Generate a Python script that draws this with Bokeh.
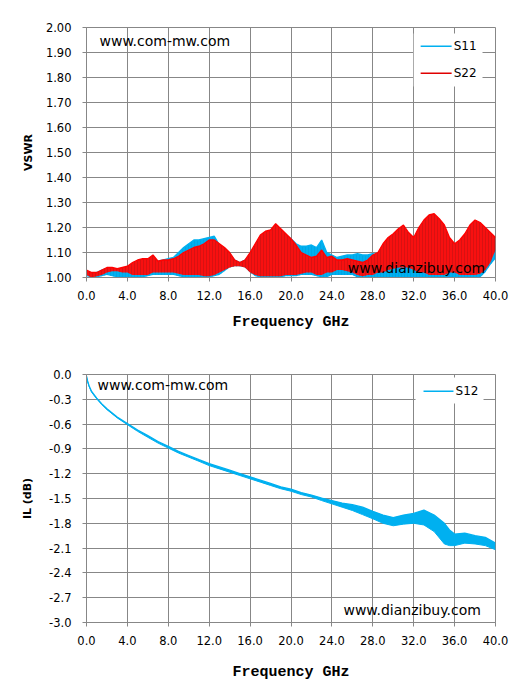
from bokeh.plotting import figure
from bokeh.models import (Range1d, FixedTicker, PrintfTickFormatter, Label, BoxAnnotation)
from bokeh.layouts import column
from bokeh.embed import file_html
from bokeh.resources import INLINE

# ---------------- data ----------------
freq_vswr = [0.0, 0.5, 1.0, 1.5, 2.0, 2.5, 3.0, 3.5, 4.0, 4.5, 5.0, 5.5, 6.0, 6.5, 7.0, 7.5,
             8.0, 8.5, 9.0, 9.5, 10.0, 10.5, 11.0, 11.5, 12.0, 12.5, 13.0, 13.5, 14.0, 14.5,
             15.0, 15.5, 16.0, 16.5, 17.0, 17.5, 18.0, 18.5, 19.0, 19.5, 20.0, 20.5, 21.0,
             21.5, 22.0, 22.5, 23.0, 23.5, 24.0, 24.5, 25.0, 25.5, 26.0, 26.5, 27.0, 27.5,
             28.0, 28.5, 29.0, 29.5, 30.0, 30.5, 31.0, 31.5, 32.0, 32.5, 33.0, 33.5, 34.0,
             34.5, 35.0, 35.5, 36.0, 36.5, 37.0, 37.5, 38.0, 38.5, 39.0, 39.5, 40.0]

s22_hi = [1.03, 1.02, 1.02, 1.03, 1.04, 1.04, 1.035, 1.04, 1.045, 1.06, 1.07, 1.075, 1.075,
          1.09, 1.065, 1.07, 1.07, 1.075, 1.085, 1.10, 1.11, 1.12, 1.125, 1.135, 1.15, 1.15,
          1.135, 1.12, 1.10, 1.07, 1.06, 1.07, 1.10, 1.135, 1.17, 1.185, 1.19, 1.215, 1.195,
          1.175, 1.155, 1.13, 1.10, 1.09, 1.08, 1.085, 1.11, 1.08, 1.085, 1.07, 1.07, 1.075,
          1.07, 1.065, 1.06, 1.07, 1.09, 1.10, 1.135, 1.16, 1.175, 1.195, 1.21, 1.18, 1.16,
          1.20, 1.23, 1.25, 1.255, 1.235, 1.21, 1.16, 1.135, 1.15, 1.175, 1.21, 1.23, 1.22,
          1.20, 1.18, 1.16]
s22_lo = [1.01, 1.00, 1.005, 1.01, 1.02, 1.025, 1.025, 1.02, 1.02, 1.01, 1.01, 1.01, 1.01,
          1.02, 1.02, 1.02, 1.02, 1.02, 1.015, 1.01, 1.01, 1.01, 1.01, 1.005, 1.005, 1.01,
          1.02, 1.03, 1.04, 1.045, 1.045, 1.04, 1.02, 1.01, 1.005, 1.005, 1.005, 1.005, 1.005,
          1.01, 1.01, 1.01, 1.015, 1.02, 1.02, 1.01, 1.01, 1.02, 1.02, 1.03, 1.03, 1.025,
          1.02, 1.01, 1.005, 1.01, 1.01, 1.02, 1.02, 1.03, 1.035, 1.04, 1.04, 1.04, 1.03,
          1.02, 1.02, 1.01, 1.01, 1.01, 1.01, 1.02, 1.02, 1.01, 1.01, 1.01, 1.01, 1.015,
          1.03, 1.06, 1.11]
s11_hi = [1.02, 1.015, 1.02, 1.03, 1.035, 1.03, 1.025, 1.03, 1.04, 1.05, 1.06, 1.065, 1.07,
          1.07, 1.065, 1.07, 1.075, 1.08, 1.10, 1.12, 1.135, 1.15, 1.15, 1.155, 1.16, 1.165,
          1.13, 1.11, 1.09, 1.07, 1.06, 1.07, 1.09, 1.12, 1.15, 1.17, 1.175, 1.18, 1.18,
          1.17, 1.155, 1.135, 1.125, 1.125, 1.13, 1.12, 1.15, 1.10, 1.09, 1.08, 1.085, 1.09,
          1.09, 1.095, 1.09, 1.09, 1.095, 1.09, 1.09, 1.09, 1.095, 1.10, 1.12, 1.135, 1.155,
          1.15, 1.135, 1.11, 1.10, 1.095, 1.09, 1.09, 1.09, 1.085, 1.085, 1.09, 1.09, 1.09,
          1.095, 1.10, 1.11]
s11_lo = [1.005, 1.00, 1.00, 1.005, 1.01, 1.005, 1.00, 1.00, 1.00, 1.00, 1.00, 1.00, 1.005,
          1.01, 1.01, 1.01, 1.01, 1.01, 1.005, 1.00, 1.00, 1.00, 1.00, 1.00, 1.00, 1.005,
          1.01, 1.025, 1.04, 1.045, 1.045, 1.04, 1.02, 1.005, 1.00, 1.00, 1.00, 1.00, 1.00,
          1.005, 1.005, 1.005, 1.01, 1.01, 1.01, 1.005, 1.00, 1.00, 1.01, 1.01, 1.01, 1.01,
          1.01, 1.00, 1.00, 1.00, 1.00, 1.00, 1.00, 1.00, 1.00, 1.00, 1.00, 1.00, 1.00,
          1.00, 1.00, 1.00, 1.00, 1.00, 1.00, 1.00, 1.00, 1.00, 1.00, 1.00, 1.00, 1.00,
          1.02, 1.05, 1.075]

freq_il = [0.0, 0.1, 0.25, 0.5, 1.0, 1.5, 2.0, 3.0, 4.0, 5.0, 6.0, 7.0, 8.0, 9.0, 10.0, 11.0,
           12.0, 13.0, 14.0, 15.0, 16.0, 17.0, 18.0, 19.0, 20.0, 21.0, 22.0, 23.0, 24.0, 25.0,
           26.0, 27.0, 28.0, 29.0, 30.0, 31.0, 32.0, 33.0, 34.0, 35.0, 35.5, 36.0, 37.0, 38.0,
           39.0, 40.0]
s12_hi = [-0.02, -0.075, -0.135, -0.205, -0.285, -0.355, -0.415, -0.515, -0.593, -0.672,
          -0.74, -0.81, -0.87, -0.93, -0.98, -1.03, -1.078, -1.118, -1.158, -1.198, -1.238,
          -1.278, -1.318, -1.358, -1.388, -1.428, -1.458, -1.495, -1.525, -1.555, -1.575,
          -1.605, -1.655, -1.70, -1.73, -1.70, -1.68, -1.64, -1.70, -1.80, -1.88, -1.93,
          -1.92, -1.95, -1.97, -2.04]
s12_lo = [-0.03, -0.085, -0.145, -0.215, -0.295, -0.365, -0.425, -0.525, -0.607, -0.688,
          -0.76, -0.83, -0.89, -0.95, -1.00, -1.05, -1.102, -1.142, -1.182, -1.222, -1.262,
          -1.302, -1.342, -1.382, -1.412, -1.452, -1.482, -1.525, -1.565, -1.605, -1.645,
          -1.695, -1.745, -1.80, -1.83, -1.81, -1.80, -1.82, -1.90, -2.05, -2.07, -2.07,
          -2.04, -2.05, -2.07, -2.12]

vswr_ticks = [1.0, 1.1, 1.2, 1.3, 1.4, 1.5, 1.6, 1.7, 1.8, 1.9, 2.0]
il_ticks = [-3.0, -2.7, -2.4, -2.1, -1.8, -1.5, -1.2, -0.9, -0.6, -0.3, 0.0]
freq_ticks = [0, 4, 8, 12, 16, 20, 24, 28, 32, 36, 40]
series_top = ["S11", "S22"]
series_bottom = ["S12"]

BLUE = "#00B0F0"
RED = "#FF0000"
GRID = "#878787"
TICK_FONT = "DejaVu Sans"


def style(p, yticks, yfmt, ylabel):
    p.xaxis.ticker = FixedTicker(ticks=freq_ticks)
    p.yaxis.ticker = FixedTicker(ticks=yticks)
    p.xaxis.formatter = PrintfTickFormatter(format="%.1f")
    p.yaxis.formatter = PrintfTickFormatter(format=yfmt)
    for ax in (p.xaxis, p.yaxis):
        ax.axis_line_color = GRID
        ax.major_tick_line_color = GRID
        ax.minor_tick_line_color = None
        ax.major_tick_out = 4
        ax.major_tick_in = 0
        ax.major_label_text_font = TICK_FONT
        ax.major_label_text_font_size = "11.5px"
        ax.major_label_text_color = "#000000"
    p.xaxis.axis_label = "Frequency GHz"
    p.xaxis.axis_label_text_font = "Liberation Mono"
    p.xaxis.axis_label_text_font_style = "bold"
    p.xaxis.axis_label_text_font_size = "15px"
    p.xaxis.axis_label_text_color = "#000000"
    p.yaxis.axis_label = ylabel
    p.yaxis.axis_label_text_font = "DejaVu Sans"
    p.yaxis.axis_label_text_font_style = "bold"
    p.yaxis.axis_label_text_font_size = "11px"
    p.yaxis.axis_label_text_color = "#000000"
    p.xaxis.major_label_standoff = 9
    p.yaxis.major_label_standoff = 11
    p.grid.grid_line_color = GRID
    p.grid.grid_line_width = 1
    p.outline_line_color = GRID
    p.background_fill_color = "white"
    p.border_fill_color = "white"


def box(p, left, right, top, bottom, color):
    p.add_layout(BoxAnnotation(left=left, right=right, top=top, bottom=bottom,
                               fill_color=color, fill_alpha=1.0, line_color=None,
                               line_alpha=0))


def key_entry(p, x0, x1, y, half, color, text):
    # swatch drawn as a very thin filled bar (1.5 px tall)
    box(p, x0, x1, y + half, y - half, color)
    p.add_layout(Label(x=x1 + 0.2, y=y, text=text, text_font="DejaVu Sans",
                       text_font_size="12px", text_baseline="middle", text_color="#000000"))


# ---------------- top: VSWR ----------------
p1 = figure(width=513, height=343, output_backend="svg", toolbar_location=None,
            x_range=Range1d(0, 40), y_range=Range1d(1.0, 2.0),
            min_border_left=86, min_border_right=17, min_border_top=27, min_border_bottom=66)
style(p1, vswr_ticks, "%.2f", "VSWR")
p1.xaxis.axis_label_standoff = 11
p1.yaxis.axis_label_standoff = 8

p1.varea(x=freq_vswr, y1=s11_lo, y2=s11_hi, fill_color=BLUE, fill_alpha=1.0,
         hatch_pattern="vertical_line", hatch_color="#0090D0", hatch_alpha=0.35,
         hatch_scale=3, hatch_weight=1)
p1.line(freq_vswr, s11_hi, line_color=BLUE, line_width=1.3)
p1.varea(x=freq_vswr, y1=s22_lo, y2=s22_hi, fill_color="#F81010", fill_alpha=1.0,
         hatch_pattern="vertical_line", hatch_color="#B01515", hatch_alpha=0.45,
         hatch_scale=3, hatch_weight=1)
p1.line(freq_vswr, s22_hi, line_color=RED, line_width=1.3)

# key (legend)
box(p1, 32.0, 38.73, 1.976, 1.764, "white")
key_entry(p1, 32.68, 35.71, 1.925, 0.003, BLUE, series_top[0])
key_entry(p1, 32.68, 35.71, 1.817, 0.003, "#E00000", series_top[1])

p1.add_layout(Label(x=1.27, y=1.948, text="www.com-mw.com", text_font="DejaVu Sans",
                    text_font_size="14px", text_baseline="middle", text_color="#000000"))
p1.add_layout(Label(x=25.56, y=1.04, text="www.dianzibuy.com", text_font="DejaVu Sans",
                    text_font_size="14px", text_baseline="middle", text_color="#000000"))

# ---------------- bottom: IL ----------------
p2 = figure(width=513, height=347, output_backend="svg", toolbar_location=None,
            x_range=Range1d(0, 40), y_range=Range1d(-3.0, 0.0),
            min_border_left=86, min_border_right=18, min_border_top=31, min_border_bottom=68)
style(p2, il_ticks, "%.1f", "IL (dB)")
p2.xaxis.axis_label_standoff = 16
p2.yaxis.axis_label_standoff = 12

p2.varea(x=freq_il, y1=s12_lo, y2=s12_hi, fill_color=BLUE, fill_alpha=1.0)
p2.line(freq_il, s12_hi, line_color=BLUE, line_width=1.3)
p2.line(freq_il, s12_lo, line_color=BLUE, line_width=1.0)

box(p2, 32.18, 38.83, -0.036, -0.351, "white")
key_entry(p2, 32.96, 35.89, -0.202, 0.009, BLUE, series_bottom[0])

p2.add_layout(Label(x=1.08, y=-0.133, text="www.com-mw.com", text_font="DejaVu Sans",
                    text_font_size="14px", text_baseline="middle", text_color="#000000"))
p2.add_layout(Label(x=25.13, y=-2.843, text="www.dianzibuy.com", text_font="DejaVu Sans",
                    text_font_size="14px", text_baseline="middle", text_color="#000000"))

layout = column(p1, p2, spacing=0)
open("out.html", "w").write(file_html(layout, INLINE))
